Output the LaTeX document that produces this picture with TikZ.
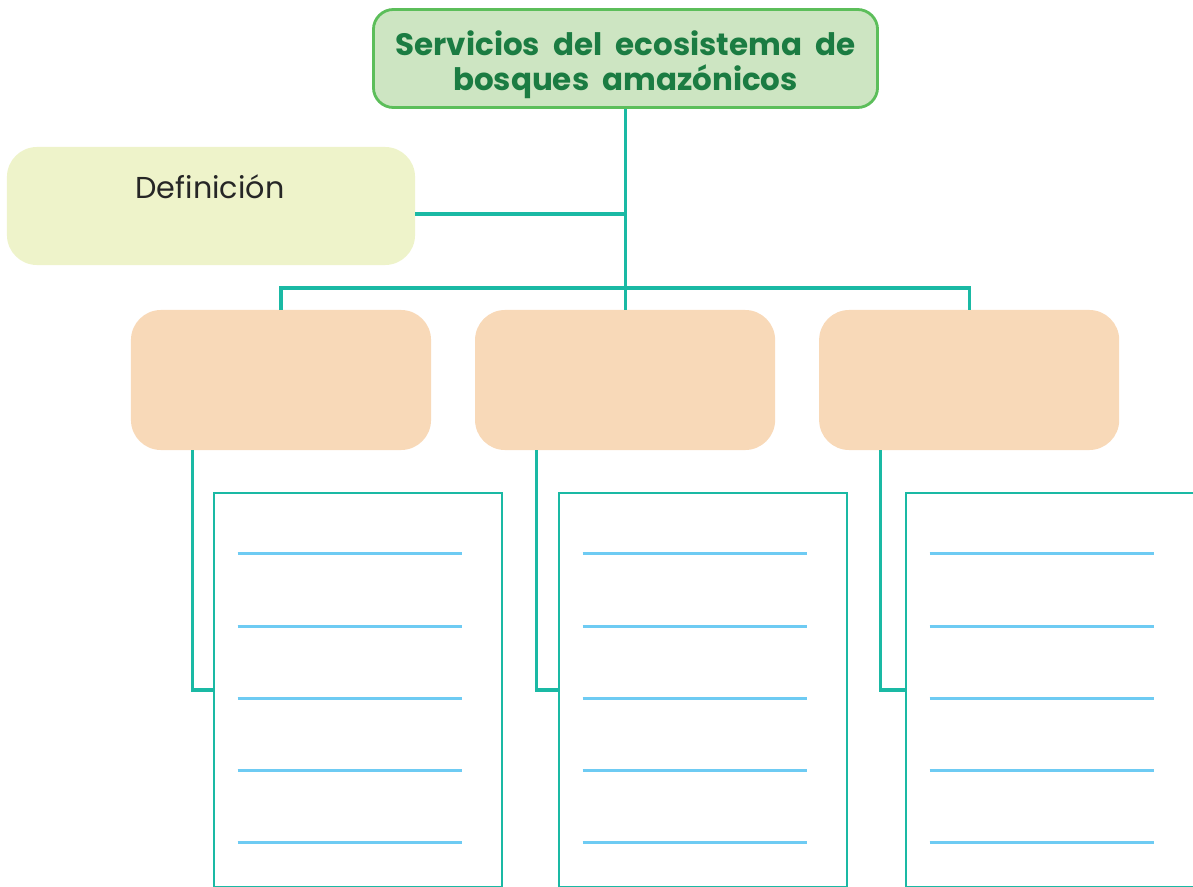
\documentclass[tikz,border=0pt]{standalone}
\usepackage{fontspec}
\setmainfont{Poppins}
\usepackage{tikz}
\usetikzlibrary{positioning}
\usepackage{xcolor}
\definecolor{bqgreen}{RGB}{27,124,66}
\definecolor{bqgreenline}{RGB}{92,190,90}
\definecolor{bqlightgreen}{RGB}{205,229,194}
\definecolor{bqyellow}{RGB}{238,243,202}
\definecolor{bqorange}{RGB}{248,217,184}
\definecolor{bqteal}{RGB}{26,185,164}
\definecolor{bqblue}{RGB}{110,203,243}
\tikzstyle{titulo} = [rectangle, rounded corners=0.5cm, minimum width=12.6cm, minimum height=2.45cm, draw=bqgreenline, fill=bqlightgreen, line width=2pt]
\tikzstyle{definicion} = [rectangle, rounded corners=0.75cm, minimum width=10.2cm, minimum height=2.95cm, fill=bqyellow]
\tikzstyle{servicio} = [rectangle, rounded corners=0.75cm, minimum width=7.5cm, minimum height=3.5cm, fill=bqorange]
\tikzstyle{lista} = [rectangle, minimum width=7.2cm, minimum height=9.85cm, draw=bqteal, fill=white, line width=2pt]
\tikzstyle{conector} = [line width=2.2pt, color=bqteal]
\tikzstyle{renglon} = [line width=1.8pt, color=bqblue]

\begin{document}
\begin{tikzpicture}[x=0.025cm, y=-0.025cm, node distance=8.6cm]
\useasboundingbox (0,0) rectangle (1193,887);
\clip (0,0) rectangle (1193,887);

% Title and definition
\node (titulo) [titulo] at (625.5,58.5) {};
\node (titulotexto) [align=center, text=bqgreen, font=\fontsize{22}{25}\selectfont\bfseries] at ([yshift=-4.5pt]titulo.center) {Servicios\ \ del\ \ ecosistema\ \ de\\bosques\ \ amazónicos};
\node (def) [definicion] at (211,206) {};
\node (defrotulo) [anchor=base, font=\fontsize{21.5}{24}\selectfont, text=black!85] at (210,198) {Definición};

% Services
\node (serv1) [servicio] at (281,380) {};
\node (serv2) [servicio, right of=serv1] {};
\node (serv3) [servicio, right of=serv2] {};

% Lined boxes
\node (lista1) [lista] at (358,690) {};
\node (lista2) [lista] at (703,690) {};
\node (lista3) [lista] at (1050,690) {};
\foreach \n in {lista1,lista2,lista3}
  \foreach \y in {62,135,207,279,351}
    \draw[renglon] (\n.north west) ++(25,\y) -- ++(224,0);

% Connectors
\coordinate (bus) at (titulo.south |- 0,288);
\draw[conector] (titulo.south) -- (titulo.south |- serv2.north);
\draw[conector] ([yshift=-5.7pt]def.east) -- ([yshift=-5.7pt]def.east -| titulo.south);
\draw[conector] (serv1.north) |- (bus) -| (serv3.north);
\draw[conector] ([xshift=1.55cm]serv1.south west) |- (lista1.west);
\draw[conector] ([xshift=1.55cm]serv2.south west) |- (lista2.west);
\draw[conector] ([xshift=1.55cm]serv3.south west) |- (lista3.west);
\end{tikzpicture}
\end{document}
